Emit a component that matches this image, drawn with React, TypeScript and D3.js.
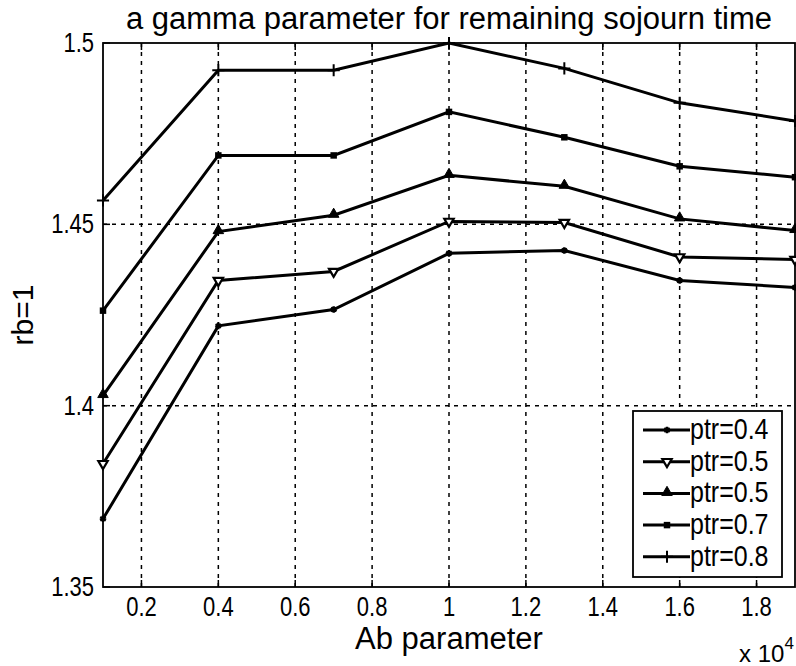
import React, { useRef, useEffect } from 'react';
import * as d3 from 'd3';

// Ab parameter values (x axis)
const abValues = [1000, 4000, 7000, 10000, 13000, 16000, 19000];

// one series per ptr value
const ptr04 = [1.3688, 1.422, 1.4265, 1.442, 1.4428, 1.4345, 1.4326];
const ptr05a = [1.384, 1.4345, 1.437, 1.4508, 1.4505, 1.441, 1.4403];
const ptr05b = [1.4028, 1.448, 1.4525, 1.4635, 1.4605, 1.4515, 1.4483];
const ptr07 = [1.4262, 1.469, 1.469, 1.481, 1.474, 1.466, 1.463];
const ptr08 = [1.4566, 1.4925, 1.4925, 1.5, 1.493, 1.4835, 1.4785];

const legendLabels = ['ptr=0.4', 'ptr=0.5', 'ptr=0.5', 'ptr=0.7', 'ptr=0.8'];
const markerKinds = ['asterisk', 'nabla', 'triangle', 'square', 'plus'];

const xTicks = [2000, 4000, 6000, 8000, 10000, 12000, 14000, 16000, 18000];
const yTicks = [1.35, 1.4, 1.45, 1.5];

const FONT = '"Liberation Sans", Arial, sans-serif';

const App: React.FC = () => {
    const svgRef = useRef<SVGSVGElement | null>(null);

    useEffect(() => {
        if (!svgRef.current) return;
        const width = 796;
        const height = 666;
        const margin = { top: 43, right: 1, bottom: 79, left: 103 };
        const innerWidth = width - margin.left - margin.right;
        const innerHeight = height - margin.top - margin.bottom;

        const svg = d3.select(svgRef.current)
            .attr('width', width)
            .attr('height', height);
        svg.selectAll('*').remove();

        svg.append('rect').attr('width', width).attr('height', height).attr('fill', 'white');

        const g = svg.append('g')
            .attr('transform', `translate(${margin.left},${margin.top})`);

        const x = d3.scaleLinear().domain([1000, 19000]).range([0, innerWidth]);
        const y = d3.scaleLinear().domain([1.35, 1.5]).range([innerHeight, 0]);

        // dashed grid
        g.selectAll('.vgrid')
            .data(xTicks)
            .enter().append('line')
            .attr('x1', d => x(d)).attr('x2', d => x(d))
            .attr('y1', 0).attr('y2', innerHeight)
            .attr('stroke', 'black').attr('stroke-width', 1.5)
            .attr('stroke-dasharray', '4,5');
        g.selectAll('.hgrid')
            .data(yTicks.slice(1, -1))
            .enter().append('line')
            .attr('x1', 0).attr('x2', innerWidth)
            .attr('y1', d => y(d)).attr('y2', d => y(d))
            .attr('stroke', 'black').attr('stroke-width', 1.5)
            .attr('stroke-dasharray', '4,5');

        // inward tick marks
        const tickLen = 7;
        xTicks.forEach(t => {
            g.append('line').attr('x1', x(t)).attr('x2', x(t))
                .attr('y1', innerHeight).attr('y2', innerHeight - tickLen)
                .attr('stroke', 'black').attr('stroke-width', 1.5);
            g.append('line').attr('x1', x(t)).attr('x2', x(t))
                .attr('y1', 0).attr('y2', tickLen)
                .attr('stroke', 'black').attr('stroke-width', 1.5);
        });
        yTicks.forEach(t => {
            g.append('line').attr('x1', 0).attr('x2', tickLen)
                .attr('y1', y(t)).attr('y2', y(t))
                .attr('stroke', 'black').attr('stroke-width', 1.5);
        });

        // axes box
        g.append('rect')
            .attr('x', 0).attr('y', 0)
            .attr('width', innerWidth).attr('height', innerHeight)
            .attr('fill', 'none').attr('stroke', 'black').attr('stroke-width', 1.8);

        // tick labels (the original font looks tall and narrow)
        g.selectAll('.xlab')
            .data(xTicks)
            .enter().append('text')
            .attr('transform', d => `translate(${x(d)},${innerHeight + 29}) scale(1,1.25)`)
            .attr('text-anchor', 'middle')
            .attr('font-family', FONT).attr('font-size', 22)
            .attr('fill', 'black')
            .text(d => d3.format('~g')(d / 10000));
        g.selectAll('.ylab')
            .data(yTicks)
            .enter().append('text')
            .attr('transform', d => `translate(-9,${y(d) + 9}) scale(1,1.25)`)
            .attr('text-anchor', 'end')
            .attr('font-family', FONT).attr('font-size', 22)
            .attr('fill', 'black')
            .text(d => d3.format('~g')(d));

        // series
        const series = [ptr04, ptr05a, ptr05b, ptr07, ptr08];
        const line = d3.line<number>()
            .x((_, i) => x(abValues[i]))
            .y(d => y(d));

        const drawMarker = (sel: d3.Selection<SVGGElement, unknown, null, undefined>, kind: string, cx: number, cy: number) => {
            if (kind === 'asterisk') {
                sel.append('path')
                    .attr('d', d3.symbol().type(d3.symbolAsterisk).size(30)())
                    .attr('transform', `translate(${cx},${cy})`)
                    .attr('fill', 'none').attr('stroke', 'black').attr('stroke-width', 2.5);
            } else if (kind === 'nabla') {
                sel.append('path')
                    .attr('d', d3.symbol().type(d3.symbolTriangle).size(38)())
                    .attr('transform', `translate(${cx},${cy}) rotate(180)`)
                    .attr('fill', 'white').attr('stroke', 'black').attr('stroke-width', 2.2);
            } else if (kind === 'triangle') {
                sel.append('path')
                    .attr('d', d3.symbol().type(d3.symbolTriangle).size(48)())
                    .attr('transform', `translate(${cx},${cy - 1})`)
                    .attr('fill', 'black').attr('stroke', 'black').attr('stroke-width', 1);
            } else if (kind === 'square') {
                sel.append('path')
                    .attr('d', d3.symbol().type(d3.symbolSquare).size(42)())
                    .attr('transform', `translate(${cx},${cy})`)
                    .attr('fill', 'black');
            } else {
                sel.append('path')
                    .attr('d', d3.symbol().type(d3.symbolPlus).size(50)())
                    .attr('transform', `translate(${cx},${cy})`)
                    .attr('fill', 'none').attr('stroke', 'black').attr('stroke-width', 2);
            }
        };

        series.forEach((s, k) => {
            g.append('path')
                .datum(s)
                .attr('d', line)
                .attr('fill', 'none')
                .attr('stroke', 'black')
                .attr('stroke-width', 3);
            const mg = g.append('g');
            s.forEach((v, i) => drawMarker(mg, markerKinds[k], x(abValues[i]), y(v)));
        });

        // legend
        const legend = svg.append('g').attr('transform', 'translate(633,411)');
        legend.append('rect')
            .attr('width', 149).attr('height', 166)
            .attr('fill', 'white').attr('stroke', 'black').attr('stroke-width', 1.8);
        legendLabels.forEach((lab, k) => {
            const ly = 19 + k * 31.7;
            const eg = legend.append('g');
            eg.append('line').attr('x1', 10).attr('x2', 57)
                .attr('y1', ly).attr('y2', ly)
                .attr('stroke', 'black').attr('stroke-width', 3);
            drawMarker(eg, markerKinds[k], 34, ly);
            eg.append('text')
                .attr('transform', `translate(57,${ly + 9}) scale(1,1.15)`)
                .attr('font-family', FONT).attr('font-size', 25)
                .attr('fill', 'black')
                .text(lab);
        });

        // title and axis labels
        svg.append('text')
            .attr('x', margin.left + innerWidth / 2).attr('y', 29)
            .attr('text-anchor', 'middle')
            .attr('font-family', FONT).attr('font-size', 31)
            .attr('fill', 'black')
            .text('a gamma parameter for remaining sojourn time');
        svg.append('text')
            .attr('x', margin.left + innerWidth / 2).attr('y', 649)
            .attr('text-anchor', 'middle')
            .attr('font-family', FONT).attr('font-size', 31)
            .attr('fill', 'black')
            .text('Ab parameter');
        svg.append('text')
            .attr('transform', `translate(33,${margin.top + innerHeight / 2}) rotate(-90)`)
            .attr('text-anchor', 'middle')
            .attr('font-family', FONT).attr('font-size', 30)
            .attr('fill', 'black')
            .text('rb=1');
        const exp = svg.append('text')
            .attr('x', 739).attr('y', 662)
            .attr('font-family', FONT).attr('font-size', 24)
            .attr('fill', 'black');
        exp.append('tspan').text('x 10');
        exp.append('tspan').attr('dy', -13).attr('font-size', 17).text('4');
    }, []);

    return <svg ref={svgRef} style={{ position: 'absolute', left: 0, top: 0 }}></svg>;
};

export default App;
